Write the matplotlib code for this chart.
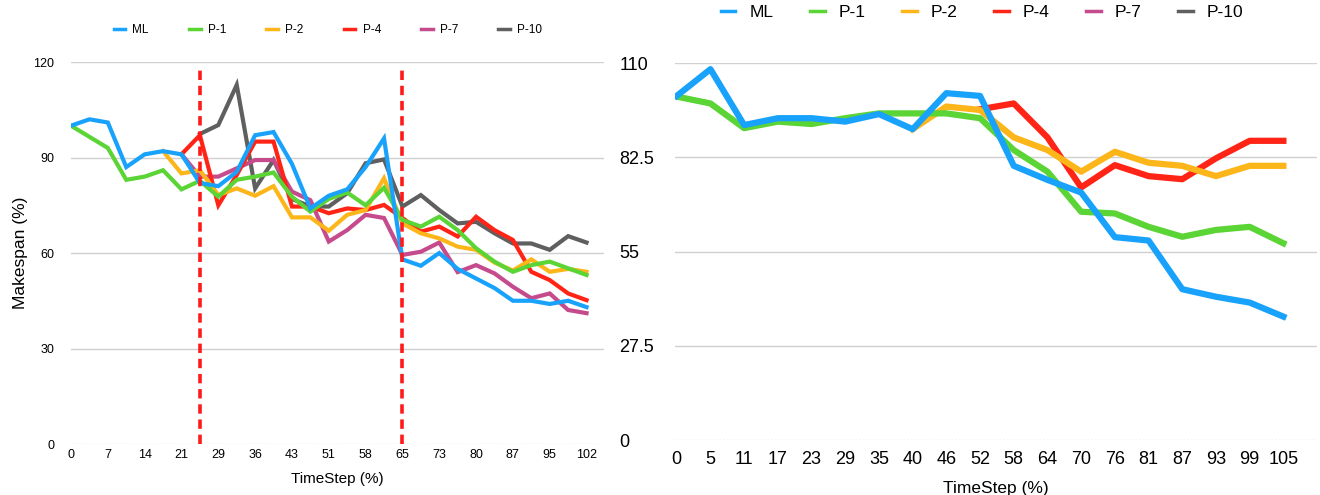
import numpy as np
import matplotlib
matplotlib.use("Agg")
import matplotlib.pyplot as plt

plt.rcParams["font.family"] = ["Liberation Sans", "DejaVu Sans"]

nan = np.nan

# left panel: 29 time steps, every other one labelled
left_ticks = ["0", "7", "14", "21", "29", "36", "43", "51", "58", "65", "73", "80", "87", "95", "102"]
left_ml = [100, 102, 101, 87, 91, 92, 91, 82, 81, 85.5, 97, 98, 88, 74, 78, 80, 87, 96,
           58, 56, 60, 55, 52, 49, 45, 45, 44, 45, 43]
left_p1 = [100, 96.5, 93, 83, 84, 86, 80, 82.7, 77.7, 83, 84, 85.3, 77.7, 73, 77, 79, 75, 80.5,
           70.4, 68.3, 71.4, 67.2, 61.5, 57.3, 54.1, 56.2, 57.3, 55.2, 53.1]
left_p2 = [nan, nan, nan, nan, nan, 92, 85, 86, 78.2, 80.3, 78, 81, 71.2, 71.2, 67, 72, 73.5, 83.5,
           69.3, 66.2, 64.6, 62, 61, 57, 54.5, 58, 54.1, 55, 54.1]
left_p4 = [nan, nan, nan, nan, nan, nan, 91, 97, 75, 84.5, 95, 95, 74.6, 74.6, 72.5, 74, 73.5, 75.1,
           71, 66.7, 68.3, 65.2, 71.4, 67.2, 64.1, 54.1, 51.5, 47.3, 45.2]
left_p7 = [nan, nan, nan, nan, nan, nan, 91, 84, 84, 86.6, 89.2, 89.2, 79.3, 76.6, 63.6, 67.2, 72, 71,
           59.4, 60.4, 63.3, 54, 56.2, 53.6, 49.4, 45.8, 47.3, 42.1, 41.1]
left_p10 = [nan, nan, nan, nan, nan, nan, nan, 97.4, 100.2, 112.8, 80.3, 89.2, 77, 74.6, 74.6, 78.8, 88.2, 89.4,
            74.6, 78.2, 73.5, 69.3, 69.8, 66.2, 63, 63, 61, 65.3, 63.3]
phase_marks = [7, 18]

# right panel: 19 time steps
right_ticks = ["0", "5", "11", "17", "23", "29", "35", "40", "46", "52", "58", "64", "70", "76", "81", "87", "93", "99", "105"]
right_ml = [100.4, 108.2, 91.9, 93.9, 93.9, 92.9, 95.1, 90.7, 101.2, 100.4, 80, 75.9, 72.2, 59.2, 58.2, 44, 41.8, 40.1, 36]
right_p1 = [100.2, 98.2, 91, 92.9, 92.2, 93.9, 95.3, 95.3, 95.3, 93.9, 84.6, 78.3, 66.6, 66.1, 62.2, 59.3, 61.3, 62.2, 57.4]
right_p2 = [nan, nan, nan, nan, nan, nan, nan, 90.7, 97.3, 96.3, 88.3, 84.6, 78.3, 84.1, 80.9, 80, 77, 80, 80]
right_p4 = [nan, nan, nan, nan, nan, nan, nan, nan, nan, 96.5, 98.2, 88.3, 73.7, 80.2, 77, 76.1, 82.2, 87.3, 87.3]

names = ["ML", "P-1", "P-2", "P-4", "P-7", "P-10"]
colors = ["#18a2fb", "#5bd435", "#fcb61a", "#ff2415", "#c64b8d", "#5f5f5f"]

fig = plt.figure(figsize=(13.2, 4.95), dpi=100)
ax1 = fig.add_axes([0.0538, 0.103, 0.4038, 0.7717])
ax2 = fig.add_axes([0.5114, 0.1111, 0.4864, 0.7616])

# left chart
x1 = np.arange(len(left_ml))
left_series = [left_ml, left_p1, left_p2, left_p4, left_p7, left_p10]
order = [5, 4, 3, 2, 1, 0]
for k in order:
    ax1.plot(x1, left_series[k], color=colors[k], lw=3, solid_joinstyle="miter", zorder=3 + (5 - k))
for m in phase_marks:
    ax1.axvline(m, ymin=0, ymax=0.985, color="#ff1a1a", lw=2.6, dashes=(2.6, 1.6), zorder=10)

ax1.set_xlim(0, 28.95)
ax1.set_ylim(0, 120)
ax1.set_yticks([0, 30, 60, 90, 120])
ax1.set_xticks(x1[::2])
ax1.set_xticklabels(left_ticks)
ax1.tick_params(axis="both", length=0, labelsize=9)
ax1.tick_params(axis="y", pad=12)
ax1.set_xlabel("TimeStep (%)", fontsize=11, labelpad=8)
ax1.set_ylabel("Makespan (%)", fontsize=12.5, labelpad=4)
handles = [plt.Line2D([], [], color=c, lw=2.5) for c in colors]
ax1.legend(handles, names, loc="center", bbox_to_anchor=(0.482, 1.084), ncol=6, frameon=False,
           fontsize=8.5, handlelength=1.0, columnspacing=3.4, handletextpad=0.6)

# right chart
x2 = np.arange(len(right_ml))
right_series = [right_ml, right_p1, right_p2, right_p4]
for k in [3, 2, 1, 0]:
    ax2.plot(x2, right_series[k], color=colors[k], lw=4.5, zorder=3 + (5 - k))
ax2.set_xlim(-0.05, 19)
ax2.set_ylim(0, 110)
ax2.set_yticks([0, 27.5, 55, 82.5, 110])
ax2.set_yticklabels(["0", "27.5", "55", "82.5", "110"])
ax2.set_xticks(x2)
ax2.set_xticklabels(right_ticks)
ax2.tick_params(axis="both", length=0, labelsize=13)
ax2.tick_params(axis="x", pad=8)
ax2.tick_params(axis="y", pad=40)
for lab in ax2.get_yticklabels():
    lab.set_horizontalalignment("left")
ax2.set_xlabel("TimeStep (%)", fontsize=12.5, labelpad=9)
ax2.legend(handles, names, loc="center", bbox_to_anchor=(0.478, 1.133), ncol=6, frameon=False,
           fontsize=12.5, handlelength=0.85, columnspacing=2.1, handletextpad=0.8)

for ax in (ax1, ax2):
    for s in ax.spines.values():
        s.set_visible(False)
    ax.grid(axis="y", color="#d0d0d0", lw=1)
    ax.set_axisbelow(True)
    gl = ax.get_ygridlines()[0]
    gl.set_linestyle(":")

fig.savefig("out.png", dpi=100)
